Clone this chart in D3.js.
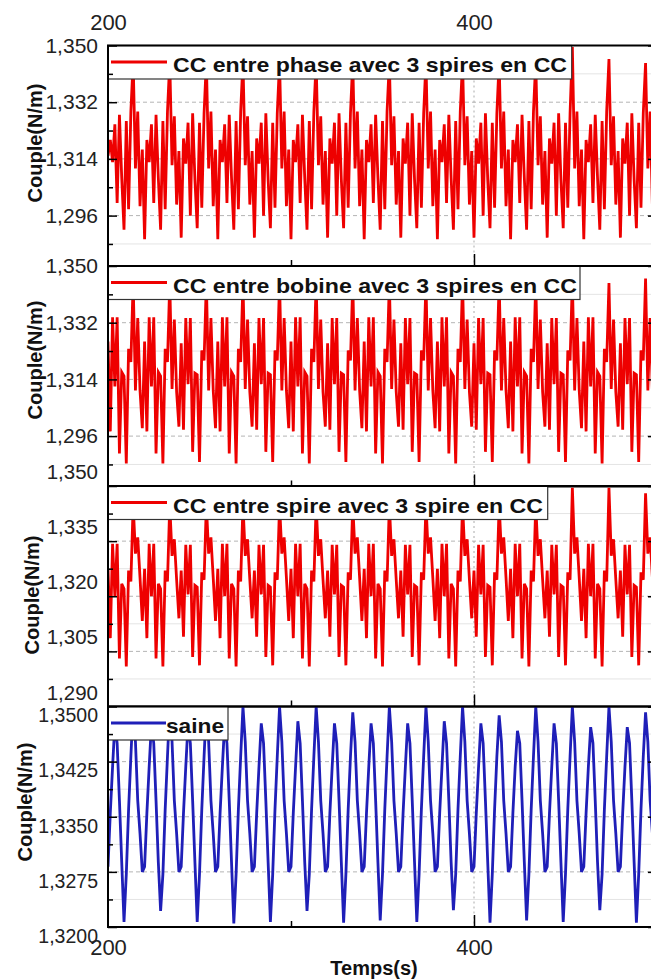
<!DOCTYPE html>
<html>
<head>
<meta charset="utf-8">
<script src="https://cdn.jsdelivr.net/npm/d3@7"></script>
<style>
  body { margin: 0; background: #fff; }
  svg { display: block; font-family: "Liberation Sans", Arial, sans-serif; }
</style>
</head>
<body>
<svg id="chart" width="651" height="980"></svg>
<script>
// torque records, one sample every tStep seconds from tStart
const tStart = 200;
const tStep = 1.25;
const tEnd = 500;

const xTicks = [200, 400];
const xMinorTicks = [300, 500];

const legendLabels = [
    "CC entre phase avec 3 spires en CC",
    "CC entre bobine avec 3 spires en CC",
    "CC entre spire avec 3 spire en CC",
    "saine"
];

const yDomains = [[1.28, 1.35], [1.28, 1.35], [1.29, 1.35], [1.32, 1.35]];
const yTicks = [
    [1.296, 1.314, 1.332, 1.350],
    [1.296, 1.314, 1.332, 1.350],
    [1.290, 1.305, 1.320, 1.335, 1.350],
    [1.3200, 1.3275, 1.3350, 1.3425, 1.3500]
];
const yMinorTicks = [
    [1.287, 1.305, 1.323, 1.341],
    [1.287, 1.305, 1.323, 1.341],
    [1.2975, 1.3125, 1.3275, 1.3425],
    [1.32375, 1.33125, 1.33875, 1.34625]
];

const couplePhase = [
    1.3150, 1.3200, 1.3130, 1.3250, 1.3000, 1.3280, 1.3080, 1.2915, 1.3260, 1.2980, 1.3290,
    1.3450, 1.3110, 1.3290, 1.2990, 1.3170, 1.2885, 1.3200, 1.3130, 1.3250, 1.3000, 1.3280, 1.3080, 1.2915, 1.3260, 1.2980, 1.3290,
    1.3450, 1.3120, 1.3275, 1.2995, 1.3165, 1.2890, 1.3205, 1.3125, 1.3255, 1.2960, 1.3285, 1.3075, 1.2920, 1.3255, 1.2985, 1.3285,
    1.3450, 1.3110, 1.3290, 1.2990, 1.3170, 1.2885, 1.3200, 1.3130, 1.3250, 1.3000, 1.3280, 1.3080, 1.2915, 1.3260, 1.2980, 1.3290,
    1.3450, 1.3120, 1.3275, 1.2995, 1.3165, 1.2890, 1.3205, 1.3125, 1.3255, 1.2960, 1.3285, 1.3075, 1.2920, 1.3255, 1.2985, 1.3285,
    1.3450, 1.3110, 1.3290, 1.2990, 1.3170, 1.2885, 1.3200, 1.3130, 1.3250, 1.3000, 1.3280, 1.3080, 1.2915, 1.3260, 1.2980, 1.3290,
    1.3450, 1.3120, 1.3275, 1.2995, 1.3165, 1.2890, 1.3205, 1.3125, 1.3255, 1.2960, 1.3285, 1.3075, 1.2920, 1.3255, 1.2985, 1.3285,
    1.3450, 1.3110, 1.3290, 1.2990, 1.3170, 1.2885, 1.3200, 1.3130, 1.3250, 1.3000, 1.3280, 1.3080, 1.2915, 1.3260, 1.2980, 1.3290,
    1.3450, 1.3120, 1.3275, 1.2995, 1.3165, 1.2890, 1.3205, 1.3125, 1.3255, 1.2960, 1.3285, 1.3075, 1.2920, 1.3255, 1.2985, 1.3285,
    1.3450, 1.3110, 1.3290, 1.2990, 1.3170, 1.2885, 1.3200, 1.3130, 1.3250, 1.3000, 1.3280, 1.3080, 1.2915, 1.3260, 1.2980, 1.3290,
    1.3450, 1.3120, 1.3275, 1.2995, 1.3165, 1.2890, 1.3205, 1.3125, 1.3255, 1.2960, 1.3285, 1.3075, 1.2920, 1.3255, 1.2985, 1.3285,
    1.3450, 1.3110, 1.3290, 1.2990, 1.3170, 1.2885, 1.3200, 1.3130, 1.3250, 1.3000, 1.3280, 1.3080, 1.2915, 1.3260, 1.2980, 1.3290,
    1.3450, 1.3120, 1.3275, 1.2995, 1.3165, 1.2890, 1.3205, 1.3125, 1.3255, 1.2960, 1.3285, 1.3075, 1.2920, 1.3255, 1.2985, 1.3285,
    1.3495, 1.3110, 1.3290, 1.2990, 1.3170, 1.2885, 1.3200, 1.3130, 1.3250, 1.3000, 1.3280, 1.3080, 1.2915, 1.3260, 1.2980, 1.3290,
    1.3457, 1.3120, 1.3275, 1.2995, 1.3165, 1.2890, 1.3205, 1.3125, 1.3255, 1.2960, 1.3285, 1.3075, 1.2920, 1.3255, 1.2985, 1.3285,
    1.3444, 1.3110, 1.3290, 1.2990, 1.3170, 1.2885
];

const coupleBobine = [
    1.3260, 1.2975, 1.3337, 1.3118, 1.3337, 1.2905, 1.3163, 1.3150, 1.2873, 1.3237, 1.3195,
    1.3450, 1.3105, 1.3335, 1.3105, 1.2985, 1.3260, 1.2975, 1.3337, 1.3118, 1.3337, 1.2905, 1.3163, 1.3150, 1.2873, 1.3237, 1.3195,
    1.3450, 1.3110, 1.3330, 1.3100, 1.2990, 1.3255, 1.2980, 1.3335, 1.3125, 1.3335, 1.2910, 1.3160, 1.3155, 1.2878, 1.3232, 1.3200,
    1.3450, 1.3105, 1.3335, 1.3105, 1.2985, 1.3260, 1.2975, 1.3337, 1.3118, 1.3337, 1.2905, 1.3163, 1.3150, 1.2873, 1.3237, 1.3195,
    1.3450, 1.3110, 1.3330, 1.3100, 1.2990, 1.3255, 1.2980, 1.3335, 1.3125, 1.3335, 1.2910, 1.3160, 1.3155, 1.2878, 1.3232, 1.3200,
    1.3450, 1.3105, 1.3335, 1.3105, 1.2985, 1.3260, 1.2975, 1.3337, 1.3118, 1.3337, 1.2905, 1.3163, 1.3150, 1.2873, 1.3237, 1.3195,
    1.3450, 1.3110, 1.3330, 1.3100, 1.2990, 1.3255, 1.2980, 1.3335, 1.3125, 1.3335, 1.2910, 1.3160, 1.3155, 1.2878, 1.3232, 1.3200,
    1.3450, 1.3105, 1.3335, 1.3105, 1.2985, 1.3260, 1.2975, 1.3337, 1.3118, 1.3337, 1.2905, 1.3163, 1.3150, 1.2873, 1.3237, 1.3195,
    1.3450, 1.3110, 1.3330, 1.3100, 1.2990, 1.3255, 1.2980, 1.3335, 1.3125, 1.3335, 1.2910, 1.3160, 1.3155, 1.2878, 1.3232, 1.3200,
    1.3450, 1.3105, 1.3335, 1.3105, 1.2985, 1.3260, 1.2975, 1.3337, 1.3118, 1.3337, 1.2905, 1.3163, 1.3150, 1.2873, 1.3237, 1.3195,
    1.3450, 1.3110, 1.3330, 1.3100, 1.2990, 1.3255, 1.2980, 1.3335, 1.3125, 1.3335, 1.2910, 1.3160, 1.3155, 1.2878, 1.3232, 1.3200,
    1.3450, 1.3105, 1.3335, 1.3105, 1.2985, 1.3260, 1.2975, 1.3337, 1.3118, 1.3337, 1.2905, 1.3163, 1.3150, 1.2873, 1.3237, 1.3195,
    1.3450, 1.3110, 1.3330, 1.3100, 1.2990, 1.3255, 1.2980, 1.3335, 1.3125, 1.3335, 1.2910, 1.3160, 1.3155, 1.2878, 1.3232, 1.3200,
    1.3455, 1.3105, 1.3335, 1.3105, 1.2985, 1.3260, 1.2975, 1.3337, 1.3118, 1.3337, 1.2905, 1.3163, 1.3150, 1.2873, 1.3237, 1.3195,
    1.3446, 1.3110, 1.3330, 1.3100, 1.2990, 1.3255, 1.2980, 1.3335, 1.3125, 1.3335, 1.2910, 1.3160, 1.3155, 1.2878, 1.3232, 1.3200,
    1.3460, 1.3105, 1.3335, 1.3105, 1.2985, 1.3260
];

const coupleSpire = [
    1.3275, 1.3086, 1.3343, 1.3200, 1.3343, 1.3031, 1.3234, 1.3220, 1.3009, 1.3270, 1.3240,
    1.3450, 1.3316, 1.3360, 1.3250, 1.3133, 1.3275, 1.3086, 1.3343, 1.3200, 1.3343, 1.3031, 1.3234, 1.3220, 1.3009, 1.3270, 1.3240,
    1.3450, 1.3310, 1.3355, 1.3245, 1.3140, 1.3270, 1.3090, 1.3340, 1.3205, 1.3340, 1.3035, 1.3230, 1.3225, 1.3012, 1.3265, 1.3245,
    1.3450, 1.3316, 1.3360, 1.3250, 1.3133, 1.3275, 1.3086, 1.3343, 1.3200, 1.3343, 1.3031, 1.3234, 1.3220, 1.3009, 1.3270, 1.3240,
    1.3450, 1.3310, 1.3355, 1.3245, 1.3140, 1.3270, 1.3090, 1.3340, 1.3205, 1.3340, 1.3035, 1.3230, 1.3225, 1.3012, 1.3265, 1.3245,
    1.3450, 1.3316, 1.3360, 1.3250, 1.3133, 1.3275, 1.3086, 1.3343, 1.3200, 1.3343, 1.3031, 1.3234, 1.3220, 1.3009, 1.3270, 1.3240,
    1.3450, 1.3310, 1.3355, 1.3245, 1.3140, 1.3270, 1.3090, 1.3340, 1.3205, 1.3340, 1.3035, 1.3230, 1.3225, 1.3012, 1.3265, 1.3245,
    1.3450, 1.3316, 1.3360, 1.3250, 1.3133, 1.3275, 1.3086, 1.3343, 1.3200, 1.3343, 1.3031, 1.3234, 1.3220, 1.3009, 1.3270, 1.3240,
    1.3450, 1.3310, 1.3355, 1.3245, 1.3140, 1.3270, 1.3090, 1.3340, 1.3205, 1.3340, 1.3035, 1.3230, 1.3225, 1.3012, 1.3265, 1.3245,
    1.3450, 1.3316, 1.3360, 1.3250, 1.3133, 1.3275, 1.3086, 1.3343, 1.3200, 1.3343, 1.3031, 1.3234, 1.3220, 1.3009, 1.3270, 1.3240,
    1.3450, 1.3310, 1.3355, 1.3245, 1.3140, 1.3270, 1.3090, 1.3340, 1.3205, 1.3340, 1.3035, 1.3230, 1.3225, 1.3012, 1.3265, 1.3245,
    1.3450, 1.3316, 1.3360, 1.3250, 1.3133, 1.3275, 1.3086, 1.3343, 1.3200, 1.3343, 1.3031, 1.3234, 1.3220, 1.3009, 1.3270, 1.3240,
    1.3450, 1.3310, 1.3355, 1.3245, 1.3140, 1.3270, 1.3090, 1.3340, 1.3205, 1.3340, 1.3035, 1.3230, 1.3225, 1.3012, 1.3265, 1.3245,
    1.3495, 1.3316, 1.3360, 1.3250, 1.3133, 1.3275, 1.3086, 1.3343, 1.3200, 1.3343, 1.3031, 1.3234, 1.3220, 1.3009, 1.3270, 1.3240,
    1.3495, 1.3310, 1.3355, 1.3245, 1.3140, 1.3270, 1.3090, 1.3340, 1.3205, 1.3340, 1.3035, 1.3230, 1.3225, 1.3012, 1.3265, 1.3245,
    1.3480, 1.3316, 1.3360, 1.3250, 1.3133, 1.3275
];

const coupleSaine = [
    1.3282, 1.3355, 1.3418, 1.3477, 1.3450, 1.3372, 1.3288, 1.3207, 1.3272, 1.3360, 1.3432,
    1.3500, 1.3452, 1.3372, 1.3327, 1.3275, 1.3282, 1.3355, 1.3418, 1.3477, 1.3450, 1.3372, 1.3288, 1.3222, 1.3272, 1.3360, 1.3432,
    1.3500, 1.3452, 1.3372, 1.3327, 1.3275, 1.3282, 1.3355, 1.3418, 1.3477, 1.3450, 1.3372, 1.3288, 1.3207, 1.3272, 1.3360, 1.3432,
    1.3500, 1.3452, 1.3372, 1.3327, 1.3275, 1.3282, 1.3355, 1.3418, 1.3477, 1.3450, 1.3372, 1.3288, 1.3205, 1.3272, 1.3360, 1.3432,
    1.3500, 1.3452, 1.3372, 1.3327, 1.3275, 1.3282, 1.3355, 1.3418, 1.3477, 1.3450, 1.3372, 1.3288, 1.3207, 1.3272, 1.3360, 1.3432,
    1.3500, 1.3452, 1.3372, 1.3327, 1.3275, 1.3282, 1.3355, 1.3418, 1.3480, 1.3450, 1.3372, 1.3288, 1.3222, 1.3272, 1.3360, 1.3432,
    1.3500, 1.3452, 1.3372, 1.3327, 1.3275, 1.3282, 1.3355, 1.3418, 1.3477, 1.3450, 1.3372, 1.3288, 1.3206, 1.3272, 1.3360, 1.3432,
    1.3492, 1.3452, 1.3372, 1.3327, 1.3275, 1.3282, 1.3355, 1.3418, 1.3477, 1.3450, 1.3372, 1.3288, 1.3209, 1.3272, 1.3360, 1.3432,
    1.3500, 1.3452, 1.3372, 1.3327, 1.3275, 1.3282, 1.3355, 1.3418, 1.3477, 1.3450, 1.3372, 1.3288, 1.3207, 1.3272, 1.3360, 1.3432,
    1.3500, 1.3452, 1.3372, 1.3327, 1.3275, 1.3282, 1.3355, 1.3418, 1.3480, 1.3450, 1.3372, 1.3288, 1.3223, 1.3272, 1.3360, 1.3432,
    1.3500, 1.3452, 1.3372, 1.3327, 1.3275, 1.3282, 1.3355, 1.3418, 1.3477, 1.3450, 1.3372, 1.3288, 1.3206, 1.3272, 1.3360, 1.3432,
    1.3488, 1.3452, 1.3372, 1.3327, 1.3275, 1.3282, 1.3355, 1.3418, 1.3467, 1.3450, 1.3372, 1.3288, 1.3209, 1.3272, 1.3360, 1.3432,
    1.3500, 1.3452, 1.3372, 1.3327, 1.3275, 1.3282, 1.3355, 1.3418, 1.3477, 1.3450, 1.3372, 1.3288, 1.3207, 1.3272, 1.3360, 1.3432,
    1.3500, 1.3452, 1.3372, 1.3327, 1.3275, 1.3282, 1.3355, 1.3418, 1.3472, 1.3450, 1.3372, 1.3288, 1.3223, 1.3272, 1.3360, 1.3432,
    1.3500, 1.3452, 1.3372, 1.3327, 1.3275, 1.3282, 1.3355, 1.3418, 1.3472, 1.3450, 1.3372, 1.3288, 1.3206, 1.3272, 1.3360, 1.3432,
    1.3492, 1.3452, 1.3372, 1.3327, 1.3275, 1.3282
];

const seriesList = [couplePhase, coupleBobine, coupleSpire, coupleSaine];
const seriesColors = ["#ee0000", "#ee0000", "#ee0000", "#1f1fb8"];

// layout
const svg = d3.select("#chart");
const left = 108, right = 657;
const panelTops = [45.5, 266, 486, 706.5];
const panelH = 220.5;
const decimals = [3, 3, 3, 4];
const labelShift = [0, 0, -14, 9];
const labelSize = [21, 21, 20.5, 19.5];
const titlePos = [[35, 143], [35, 360], [32, 595], [24.5, 802]];
const legendRight = [571.7, 580, 547.7, 228];
const legendTextLen = [394, 404, 370, 58];

const locale = d3.formatLocale({decimal: ",", thousands: ".", grouping: [3], currency: ["", ""]});

const x = d3.scaleLinear().domain([tStart, tEnd]).range([left, right]);

seriesList.forEach((values, p) => {
    const top = panelTops[p], bottom = top + panelH;
    const y = d3.scaleLinear().domain(yDomains[p]).range([bottom, top]);
    const g = svg.append("g");

    // grid
    g.selectAll("line.minorgrid")
        .data(yMinorTicks[p])
        .enter().append("line")
        .attr("x1", left).attr("x2", right)
        .attr("y1", d => y(d)).attr("y2", d => y(d))
        .attr("stroke", "#e4e4e4").attr("stroke-width", 1);
    g.selectAll("line.grid")
        .data(yTicks[p].filter(d => y(d) > top + 1 && y(d) < bottom - 1))
        .enter().append("line")
        .attr("x1", left).attr("x2", right)
        .attr("y1", d => y(d)).attr("y2", d => y(d))
        .attr("stroke", "#b4b4b4").attr("stroke-width", 1)
        .attr("stroke-dasharray", "4,3");
    g.append("line")
        .attr("x1", x(400)).attr("x2", x(400))
        .attr("y1", top).attr("y2", bottom)
        .attr("stroke", "#aaa").attr("stroke-width", 1)
        .attr("stroke-dasharray", "2,3");

    // curve
    const clipId = "clip" + p;
    svg.append("clipPath").attr("id", clipId)
        .append("rect").attr("x", left).attr("y", top)
        .attr("width", right - left).attr("height", panelH);

    const line = d3.line()
        .x((d, i) => x(tStart + i * tStep))
        .y(d => y(d));

    g.append("path")
        .datum(values)
        .attr("clip-path", "url(#" + clipId + ")")
        .attr("fill", "none")
        .attr("stroke", seriesColors[p])
        .attr("stroke-width", 2.8)
        .attr("stroke-linejoin", "miter")
        .attr("d", line);

    // legend
    const lg = g.append("g");
    lg.append("rect")
        .attr("x", left).attr("y", top)
        .attr("width", legendRight[p] - left).attr("height", 33.5)
        .attr("fill", "#fff").attr("stroke", "#333").attr("stroke-width", 1.2);
    lg.append("line")
        .attr("x1", left + 3).attr("x2", p === 3 ? 166 : 167)
        .attr("y1", top + 16.5).attr("y2", top + 16.5)
        .attr("stroke", seriesColors[p]).attr("stroke-width", 2.8);
    lg.append("text")
        .attr("x", p === 3 ? 166 : 173).attr("y", top + 26.5)
        .attr("font-size", 21).attr("font-weight", "bold")
        .attr("textLength", legendTextLen[p])
        .attr("lengthAdjust", "spacingAndGlyphs")
        .attr("fill", "#111")
        .text(legendLabels[p]);

    // frame
    g.append("rect")
        .attr("x", left).attr("y", top)
        .attr("width", right - left).attr("height", panelH)
        .attr("fill", "none").attr("stroke", "#000").attr("stroke-width", 2);

    // y axes
    const fmt = locale.format("." + decimals[p] + "f");
    const yAxis = g.append("g").attr("transform", `translate(${left},0)`)
        .call(d3.axisLeft(y).tickValues(yTicks[p]).tickFormat(fmt)
            .tickSizeInner(-9).tickSizeOuter(0).tickPadding(10));
    yAxis.select(".domain").remove();
    yAxis.selectAll("line").attr("stroke-width", 1.5);
    yAxis.selectAll("text")
        .attr("font-size", labelSize[p])
        .attr("font-family", "Liberation Sans, Arial, sans-serif")
        .attr("fill", "#222")
        .attr("transform", `translate(0,${labelShift[p]})`);

    const yMinor = g.append("g").attr("transform", `translate(${left},0)`)
        .call(d3.axisLeft(y).tickValues(yMinorTicks[p]).tickFormat("")
            .tickSizeInner(-5).tickSizeOuter(0));
    yMinor.select(".domain").remove();
    yMinor.selectAll("line").attr("stroke-width", 1.5);

    const yRight = g.append("g").attr("transform", `translate(${right},0)`)
        .call(d3.axisRight(y).tickValues(yTicks[p]).tickFormat("")
            .tickSizeInner(-9).tickSizeOuter(0));
    yRight.select(".domain").remove();
    yRight.selectAll("line").attr("stroke-width", 1.5);

    // bottom ticks pointing inward
    const xb = g.append("g").attr("transform", `translate(0,${bottom})`)
        .call(d3.axisBottom(x).tickValues([400]).tickFormat("")
            .tickSizeInner(-12).tickSizeOuter(0));
    xb.select(".domain").remove();
    xb.selectAll("line").attr("stroke-width", 1.5);
    const xbm = g.append("g").attr("transform", `translate(0,${bottom})`)
        .call(d3.axisBottom(x).tickValues(xMinorTicks).tickFormat("")
            .tickSizeInner(-6).tickSizeOuter(0));
    xbm.select(".domain").remove();
    xbm.selectAll("line").attr("stroke-width", 1.5);

    // y title
    g.append("text")
        .attr("transform", `translate(${titlePos[p][0]},${titlePos[p][1]}) rotate(-90)`)
        .attr("text-anchor", "middle")
        .attr("dominant-baseline", "central")
        .attr("font-size", 20).attr("font-weight", "bold")
        .attr("fill", "#111")
        .text("Couple(N/m)");
});

// top and bottom time labels
const xTop = svg.append("g").attr("transform", `translate(0,${panelTops[0]})`)
    .call(d3.axisTop(x).tickValues(xTicks).tickFormat(d3.format("d"))
        .tickSize(0).tickPadding(15.5));
xTop.select(".domain").remove();
xTop.selectAll("text").attr("font-size", 22).attr("fill", "#222")
    .attr("font-family", "Liberation Sans, Arial, sans-serif");

const xBottom = svg.append("g").attr("transform", `translate(0,${panelTops[3] + panelH})`)
    .call(d3.axisBottom(x).tickValues(xTicks).tickFormat(d3.format("d"))
        .tickSize(0).tickPadding(12.5));
xBottom.select(".domain").remove();
xBottom.selectAll("text").attr("font-size", 22).attr("fill", "#222")
    .attr("font-family", "Liberation Sans, Arial, sans-serif");

svg.append("text")
    .attr("x", 374).attr("y", 975)
    .attr("text-anchor", "middle")
    .attr("font-size", 20).attr("font-weight", "bold")
    .attr("fill", "#111")
    .text("Temps(s)");
</script>
</body>
</html>
